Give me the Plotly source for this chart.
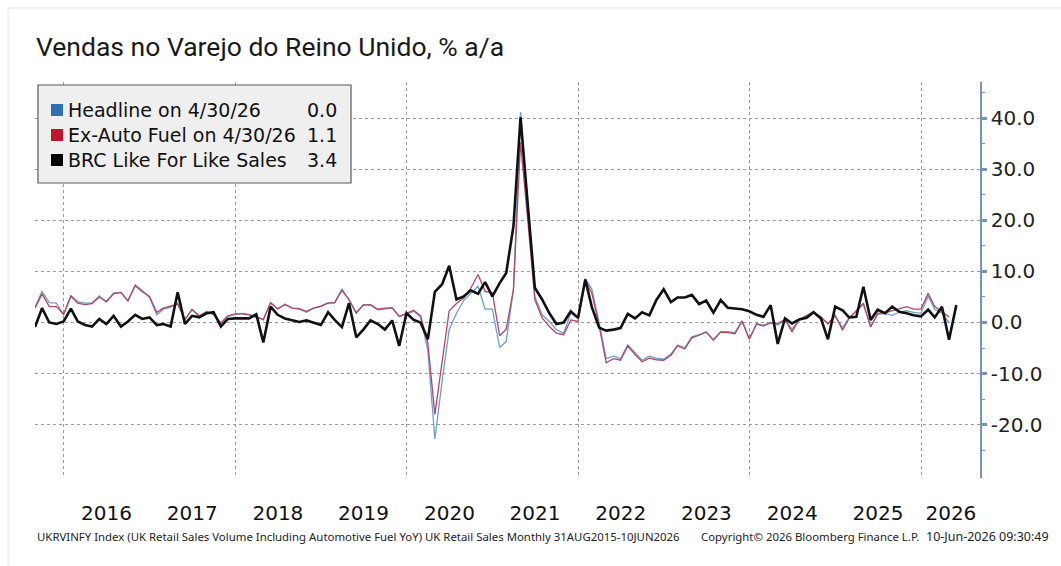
import pandas as pd
import plotly.graph_objects as go

# Monthly observations (month-end), Aug 2015 onwards, % y/y
headline = [
    3.0, 6.1, 3.9, 3.8, 1.5,
    5.2, 4.1, 3.8, 3.8, 5.2, 4.0, 5.8, 5.9, 4.3, 7.4, 6.3, 4.9,
    1.5, 2.6, 3.0, 3.8, 0.5, 2.6, 1.2, 2.2, 1.5, -0.2, 1.2, 1.6,
    1.8, 1.6, 1.2, 0.5, 3.8, 2.6, 3.6, 2.8, 2.6, 2.0, 2.8, 3.1,
    3.9, 3.8, 6.6, 4.4, 1.8, 3.5, 3.4, 2.5, 2.6, 2.8, 1.2, 1.6,
    2.2, 1.1, -5.5, -22.8, -11.5, -1.4, 1.8, 4.3, 5.7, 7.1, 2.6, 2.6,
    -4.9, -3.7, 6.5, 41.2, 23.0, 5.1, 1.5, 0.2, -1.4, -2.1, 1.8, 0.9,
    8.6, 6.5, 0.0, -7.1, -6.6, -7.1, -4.4, -6.0, -7.4, -6.6, -7.0, -7.2,
    -6.2, -4.4, -4.9, -2.8, -2.4, -1.8, -3.3, -1.8, -1.8, -2.0, 0.3, -3.2,
    -0.2, -0.5, 0.0, -0.5, 0.5, -1.3, 0.6, 1.4, 2.1, 0.8, -0.1, 1.2,
    -1.0, 0.9, 2.3, 3.5, -0.8, 1.6, 1.8, 1.4, 2.0, 2.3, 2.0, 1.8,
    5.2, 2.6, 1.8, 0.0,
]
ex_auto_fuel = [
    2.8, 5.6, 3.1, 3.1, 1.6,
    5.2, 3.8, 3.5, 3.7, 5.0, 4.1, 5.6, 5.9, 4.2, 7.2, 6.0, 5.1,
    2.0, 2.8, 3.2, 3.6, 0.6, 2.5, 1.3, 2.0, 1.7, -0.1, 1.3, 1.7,
    1.7, 1.5, 1.0, 0.6, 3.9, 2.7, 3.5, 2.8, 2.7, 2.2, 2.8, 3.2,
    3.8, 3.9, 6.3, 4.5, 1.9, 3.4, 3.5, 2.6, 2.8, 2.9, 1.2, 1.8,
    2.4, 1.3, -4.0, -18.0, -7.5, 2.3, 3.7, 4.8, 6.7, 9.4, 6.1, 5.8,
    -2.6, -1.3, 6.5, 35.3, 20.0, 4.5, 0.9, -0.8, -2.1, -2.4, 0.5, 0.2,
    8.4, 5.7, -0.6, -7.9, -7.1, -7.4, -4.6, -6.3, -7.7, -7.0, -7.3, -7.4,
    -6.4, -4.6, -5.2, -3.0, -2.5, -1.9, -3.5, -1.9, -2.0, -2.2, 0.3, -3.3,
    -0.3, -0.7, -0.1, -0.2, 0.6, -1.8, 0.6, 1.3, 2.0, 1.1, -0.3, 1.4,
    -1.5, 0.8, 2.4, 3.8, -0.9, 1.8, 1.9, 2.3, 2.8, 3.1, 2.6, 2.6,
    5.7, 3.1, 2.1, 1.1,
]
brc_lfl = [
    -0.9, 2.8, 0.0, -0.3, 0.2,
    2.7, 0.2, -0.5, -0.8, 0.7, -0.3, 1.3, -0.8, 0.2, 1.5, 0.7, 1.0,
    -0.5, -0.3, -0.8, 5.9, -0.3, 1.3, 1.0, 1.8, 2.0, -0.8, 0.7, 0.8,
    0.8, 0.8, 1.6, -3.9, 3.1, 1.5, 0.8, 0.5, 0.1, 0.4, -0.1, -0.5,
    2.0, 0.5, -0.9, 3.8, -2.9, -1.4, 0.4, -0.3, -1.4, 0.4, -4.6, 1.8,
    0.5, 0.0, -3.3, 6.0, 7.5, 11.1, 4.5, 5.1, 6.3, 5.6, 7.9, 5.1,
    7.7, 9.7, 18.9, 40.2, 23.0, 6.8, 4.5, 1.8, -0.3, 0.0, 2.2, 0.9,
    8.4, 3.0, -1.0, -1.6, -1.4, -1.1, 1.7, 0.8, 2.0, 1.4, 4.4, 6.5,
    4.0, 4.9, 4.9, 5.4, 3.6, 4.3, 1.9, 4.4, 2.9, 2.8, 2.6, 2.2,
    1.5, 1.1, 3.4, -4.2, 0.8, -0.2, 0.6, 0.9, 2.0, 0.8, -3.3, 3.1,
    2.4, 1.0, 1.1, 7.0, 0.5, 2.5, 1.8, 3.1, 2.1, 1.8, 1.4, 1.2,
    2.5, 1.0, 3.1, -3.4, 3.4,
]

series_names = ["Headline on 4/30/26", "Ex-Auto Fuel on 4/30/26", "BRC Like For Like Sales"]
series_last = ["0.0", "1.1", "3.4"]
series_colors = ["#2e6fb7", "#c4122f", "#000000"]
line_colors = ["#6f9dcc", "#b0466a", "#111111"]

year_labels = ["2016", "2017", "2018", "2019", "2020", "2021", "2022", "2023", "2024", "2025", "2026"]
year_label_dates = [f"{y}-07-01" for y in range(2016, 2026)] + ["2026-05-08"]
grid_years = [f"{y}-01-01" for y in range(2016, 2027, 2)]
y_ticks = [-20, -10, 0, 10, 20, 30, 40]
y_minor = [-25, -15, -5, 5, 15, 25, 35, 45]

dates_main = pd.date_range("2015-08-31", periods=len(headline), freq="ME")
dates_brc = pd.date_range("2015-08-31", periods=len(brc_lfl), freq="ME")

W, H = 1061, 566
L, R, T, B = 35, 81, 82, 88
PW, PH = W - L - R, H - T - B


def px(x):
    return (x - L) / PW


def py(y):
    return (H - B - y) / PH


fig = go.Figure()
fig.add_trace(go.Scatter(x=dates_main, y=headline, mode="lines",
                         line=dict(color=line_colors[0], width=1.3), showlegend=False))
fig.add_trace(go.Scatter(x=dates_main, y=ex_auto_fuel, mode="lines",
                         line=dict(color=line_colors[1], width=1.3), showlegend=False))
fig.add_trace(go.Scatter(x=dates_brc, y=brc_lfl, mode="lines",
                         line=dict(color=line_colors[2], width=2.6), showlegend=False))

axis_blue = "#7894b4"
grid_col = "#9a9a9a"

fig.update_xaxes(
    type="date",
    range=["2015-08-31", "2026-09-09"],
    tickvals=year_label_dates,
    ticktext=year_labels,
    ticks="",
    showgrid=False,
    showline=False,
    zeroline=False,
    tickfont=dict(family="DejaVu Sans", size=20, color="#111111"),
    ticklabelstandoff=21,
    minor=dict(tickvals=grid_years, showgrid=True, gridcolor=grid_col,
               griddash="dot", gridwidth=1, ticks=""),
)
fig.update_yaxes(
    side="right",
    range=[-30.46, 47.1],
    tickvals=y_ticks,
    ticktext=[f"{v:.1f}" for v in y_ticks],
    showgrid=True,
    gridcolor=grid_col,
    griddash="dot",
    gridwidth=1,
    zeroline=False,
    showline=True,
    linecolor=axis_blue,
    linewidth=1.5,
    ticks="outside",
    ticklen=5,
    tickwidth=2.5,
    tickcolor=axis_blue,
    tickfont=dict(family="DejaVu Sans", size=20, color="#222222"),
    minor=dict(tickvals=y_minor, ticks="outside", ticklen=3, tickwidth=1,
               tickcolor=axis_blue, showgrid=False),
)

shapes = []
# legend panel
shapes.append(dict(type="rect", xref="paper", yref="paper",
                   x0=px(38), x1=px(351), y0=py(183), y1=py(85),
                   fillcolor="#efefef", line=dict(color="#5a5a5a", width=1.2),
                   layer="above"))
annotations = []
row_y = [110, 135, 160]
for name, val, col, yy in zip(series_names, series_last, series_colors, row_y):
    shapes.append(dict(type="rect", xref="paper", yref="paper",
                       x0=px(51), x1=px(63), y0=py(yy + 6), y1=py(yy - 6),
                       fillcolor=col, line=dict(width=0), layer="above"))
    annotations.append(dict(x=px(66), y=py(yy), xref="paper", yref="paper",
                            text=name, showarrow=False, xanchor="left", yanchor="middle",
                            font=dict(family="DejaVu Sans", size=19, color="#111111")))
    annotations.append(dict(x=px(339), y=py(yy), xref="paper", yref="paper",
                            text=val, showarrow=False, xanchor="right", yanchor="middle",
                            font=dict(family="DejaVu Sans", size=19, color="#111111")))

# card frame
shapes.append(dict(type="line", xref="paper", yref="paper",
                   x0=px(8), x1=px(8), y0=py(8), y1=py(566),
                   line=dict(color="#e4e4e4", width=1)))
shapes.append(dict(type="line", xref="paper", yref="paper",
                   x0=px(8), x1=px(1061), y0=py(8), y1=py(8),
                   line=dict(color="#e4e4e4", width=1)))

annotations.append(dict(x=px(34), y=py(47), xref="paper", yref="paper",
                        text="Vendas no Varejo do Reino Unido, % a/a", showarrow=False,
                        xanchor="left", yanchor="middle",
                        font=dict(family="Roboto", size=26.5, color="#1a1a1a")))

foot_font = dict(family="Noto Sans", size=11.4, color="#222222")
annotations.append(dict(x=px(35), y=py(536), xref="paper", yref="paper",
                        text="UKRVINFY Index (UK Retail Sales Volume Including Automotive Fuel YoY) UK Retail Sales Monthly 31AUG2015-10JUN2026",
                        showarrow=False, xanchor="left", yanchor="middle", font=foot_font))
annotations.append(dict(x=px(699), y=py(536), xref="paper", yref="paper",
                        text="Copyright\u00a9 2026 Bloomberg Finance L.P.",
                        showarrow=False, xanchor="left", yanchor="middle", font=foot_font))
annotations.append(dict(x=px(924), y=py(536), xref="paper", yref="paper",
                        text="10-Jun-2026 09:30:49",
                        showarrow=False, xanchor="left", yanchor="middle",
                        font=dict(family="Noto Sans", size=12.5, color="#222222")))

fig.update_layout(
    width=W, height=H,
    margin=dict(l=L, r=R, t=T, b=B),
    paper_bgcolor="#ffffff",
    plot_bgcolor="#ffffff",
    shapes=shapes,
    annotations=annotations,
    showlegend=False,
)

fig.write_html("out.html")
